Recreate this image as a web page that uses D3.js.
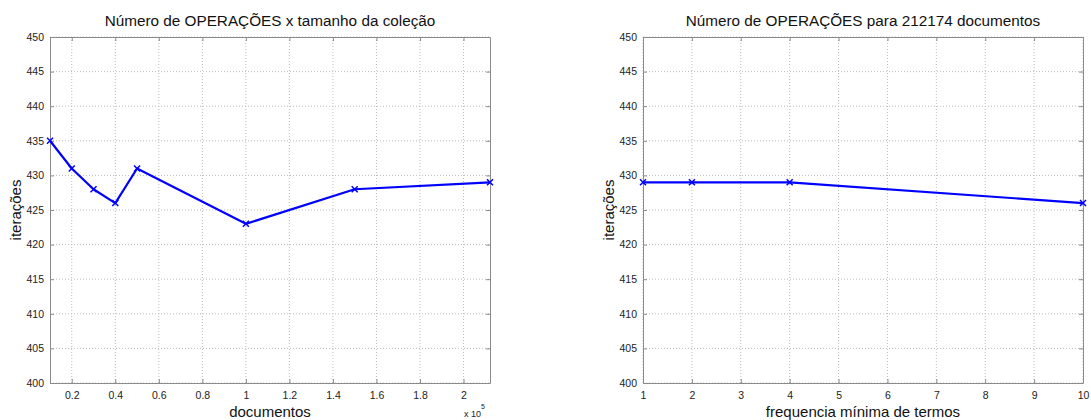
<!DOCTYPE html>
<html><head><meta charset="utf-8">
<script src="https://cdn.jsdelivr.net/npm/d3@7"></script>
<style>
body{margin:0;background:#fff;}
text{font-family:"Liberation Sans",Arial,sans-serif;}
</style></head>
<body><svg id="c" width="1091" height="420"></svg>
<script>
// Left chart data
const leftDocs = [10000, 20000, 30000, 40000, 50000, 100000, 150000, 212174];
const leftIter = [435, 431, 428, 426, 431, 423, 428, 429];
const leftXTicks = [20000, 40000, 60000, 80000, 100000, 120000, 140000, 160000, 180000, 200000];
const leftXTickLabels = ["0.2","0.4","0.6","0.8","1","1.2","1.4","1.6","1.8","2"];
// Right chart data
const rightFreq = [1, 2, 4, 10];
const rightIter = [429, 429, 429, 426];
const rightXTicks = [1,2,3,4,5,6,7,8,9,10];
const yTicks = [400,405,410,415,420,425,430,435,440,445,450];

const svg = d3.select("#c");

function panel(cfg){
  const {x0,x1,y0,y1,xDomain,xTicks,xLabels,xs,ys,title,xlabel,ylabel,ylabelX,exp} = cfg;
  const g = svg.append("g");
  const x = d3.scaleLinear().domain(xDomain).range([x0,x1]);
  const y = d3.scaleLinear().domain([400,450]).range([y1,y0]);
  const gridC = "#bdbdbd", boxC = "#8a8a8a";
  g.selectAll(".gx").data(xTicks).enter().append("line")
    .attr("x1",d=>x(d)).attr("x2",d=>x(d)).attr("y1",y0).attr("y2",y1)
    .attr("stroke",gridC).attr("stroke-dasharray","1,2").attr("stroke-width",1);
  g.selectAll(".gy").data(yTicks).enter().append("line")
    .attr("x1",x0).attr("x2",x1).attr("y1",d=>y(d)).attr("y2",d=>y(d))
    .attr("stroke",gridC).attr("stroke-dasharray","1,2").attr("stroke-width",1);
  const fmtX = (d,i)=> xLabels ? xLabels[i] : d;
  const ax = d3.axisBottom(x).tickValues(xTicks).tickFormat(fmtX).tickSizeInner(-4).tickSizeOuter(0).tickPadding(9);
  const ay = d3.axisLeft(y).tickValues(yTicks).tickSizeInner(-4).tickSizeOuter(0).tickPadding(6);
  const axT = d3.axisTop(x).tickValues(xTicks).tickFormat("").tickSizeInner(-4).tickSizeOuter(0);
  const ayR = d3.axisRight(y).tickValues(yTicks).tickFormat("").tickSizeInner(-4).tickSizeOuter(0);
  const gx = g.append("g").attr("transform",`translate(0,${y1})`).call(ax);
  const gy = g.append("g").attr("transform",`translate(${x0},0)`).call(ay);
  const gt = g.append("g").attr("transform",`translate(0,${y0})`).call(axT);
  const gr = g.append("g").attr("transform",`translate(${x1},0)`).call(ayR);
  [gx,gy,gt,gr].forEach(a=>{
    a.select(".domain").attr("stroke",boxC);
    a.selectAll(".tick line").attr("stroke",boxC);
    a.selectAll("text").attr("font-size",10.5).attr("fill","#222").attr("font-family","Liberation Sans, Arial, sans-serif");
  });
  gy.selectAll(".tick text").attr("dy","0.32em");
  const pts = xs.map((v,i)=>[v,ys[i]]);
  g.append("path").datum(pts)
    .attr("d",d3.line().x(d=>x(d[0])).y(d=>y(d[1])))
    .attr("fill","none").attr("stroke","#0000ff").attr("stroke-width",2.2).attr("stroke-linejoin","round");
  const m = 3;
  const mk = g.selectAll(".mk").data(pts).enter().append("g")
    .attr("transform",d=>`translate(${x(d[0])},${y(d[1])})`);
  mk.append("path").attr("d",`M${-m},${-m}L${m},${m}M${-m},${m}L${m},${-m}`)
    .attr("stroke","#0000ff").attr("stroke-width",1.5);
  g.append("text").attr("x",(x0+x1)/2).attr("y",26).attr("text-anchor","middle")
    .attr("font-size",15.3).attr("fill","#111").text(title);
  g.append("text").attr("x",(x0+x1)/2).attr("y",417).attr("text-anchor","middle")
    .attr("font-size",15).attr("fill","#111").text(xlabel);
  g.append("text").attr("transform",`translate(${ylabelX},${(y0+y1)/2}) rotate(-90)`)
    .attr("text-anchor","middle").attr("font-size",15).attr("fill","#111").text(ylabel);
  if(exp){
    const t = g.append("text").attr("x",x1-26).attr("y",417).attr("font-size",9).attr("fill","#222");
    t.append("tspan").text("x 10");
    t.append("tspan").attr("dy",-8).attr("font-size",7).text("5");
  }
}

panel({x0:50,x1:490,y0:37,y1:383,xDomain:[10000,212174],xTicks:leftXTicks,xLabels:leftXTickLabels,
  xs:leftDocs,ys:leftIter,title:"Número de OPERAÇÕES x tamanho da coleção",xlabel:"documentos",
  ylabel:"iterações",ylabelX:21,exp:true});
panel({x0:643,x1:1083,y0:37,y1:383,xDomain:[1,10],xTicks:rightXTicks,xLabels:null,
  xs:rightFreq,ys:rightIter,title:"Número de OPERAÇÕES para 212174 documentos",xlabel:"frequencia mínima de termos",
  ylabel:"iterações",ylabelX:614,exp:false});
</script></body></html>
